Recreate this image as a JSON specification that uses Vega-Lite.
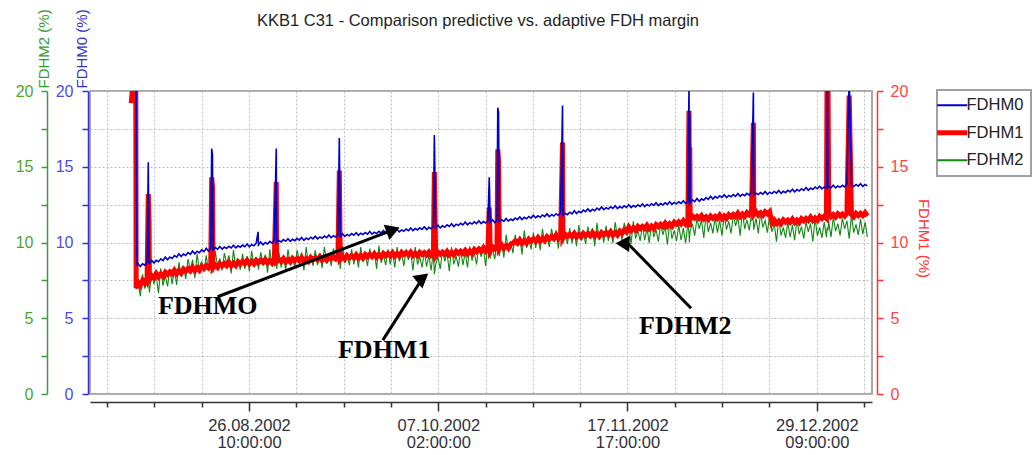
{
"$schema": "https://vega.github.io/schema/vega-lite/v6.json",
"width": 782, "height": 303,
"autosize": {"type": "none"},
"padding": {"left": 90, "top": 91, "right": 161, "bottom": 61},
"background": "white",
"title": {"text": "KKB1 C31 - Comparison predictive vs. adaptive FDH margin", "anchor": "middle", "frame": "group", "fontSize": 16.5, "font": "Liberation Sans", "fontWeight": "normal", "color": "#1e1e1e", "offset": 0, "dx": -3, "dy": 21},
"config": {"view": {"stroke": "#a8a8a8", "strokeWidth": 2}, "font": "Liberation Sans"},
"data": {"format": {"parse": {"t": "utc:'%Y-%m-%d %H'"}}, "values": [
{"t":"2002-07-31 12","b":19.2},{"t":"2002-08-01 00","b":21},{"t":"2002-08-01 12","b":21},{"t":"2002-08-01 14","a":21,"b":7.0,"c":6.9},{"t":"2002-08-01 18","a":8.45,"b":7.1,"c":7.8},
{"t":"2002-08-02 00","a":8.6,"b":7.37,"c":7.45},{"t":"2002-08-02 12","a":8.42,"b":7.15,"c":6.45},
{"t":"2002-08-03 00","a":8.6,"b":7.49,"c":7.9},{"t":"2002-08-03 12","a":8.51,"b":7.33,"c":6.95},
{"t":"2002-08-04 00","a":8.71,"b":7.7,"c":7.5},{"t":"2002-08-04 06","a":15.3,"b":13.2,"c":7.4},{"t":"2002-08-04 10","a":8.62,"b":11.3,"c":7.1},{"t":"2002-08-04 12","a":8.6,"b":7.56,"c":6.7},
{"t":"2002-08-05 00","a":8.82,"b":7.81,"c":7.95},{"t":"2002-08-05 12","a":8.64,"b":7.67,"c":7.25},
{"t":"2002-08-06 00","a":8.82,"b":7.95,"c":7.85},{"t":"2002-08-06 12","a":8.73,"b":7.73,"c":6.65},
{"t":"2002-08-07 00","a":8.92,"b":7.92,"c":8.3},{"t":"2002-08-07 12","a":8.81,"b":7.76,"c":7.15},
{"t":"2002-08-08 00","a":9.04,"b":8.04,"c":7.8},{"t":"2002-08-08 12","a":8.86,"b":7.9,"c":7.1},
{"t":"2002-08-09 00","a":9.04,"b":8.07,"c":8.25},{"t":"2002-08-09 12","a":8.95,"b":7.93,"c":7.25},
{"t":"2002-08-10 00","a":9.14,"b":8.17,"c":8.2},{"t":"2002-08-10 12","a":9.03,"b":7.95,"c":7.2},
{"t":"2002-08-11 00","a":9.25,"b":8.14,"c":8.7},{"t":"2002-08-11 12","a":9.07,"b":7.98,"c":7.75},
{"t":"2002-08-12 00","a":9.24,"b":8.25,"c":8.4},{"t":"2002-08-12 12","a":9.15,"b":8.11,"c":7.6},
{"t":"2002-08-13 00","a":9.33,"b":8.27,"c":8.9},{"t":"2002-08-13 12","a":9.22,"b":8.13,"c":8.2},
{"t":"2002-08-14 00","a":9.43,"b":8.36,"c":8.85},{"t":"2002-08-14 12","a":9.25,"b":8.14,"c":7.65},
{"t":"2002-08-15 00","a":9.42,"b":8.33,"c":9.25},{"t":"2002-08-15 12","a":9.33,"b":8.17,"c":8.1},
{"t":"2002-08-16 00","a":9.51,"b":8.43,"c":8.75},{"t":"2002-08-16 12","a":9.4,"b":8.29,"c":8.05},
{"t":"2002-08-17 00","a":9.61,"b":8.46,"c":9.15},{"t":"2002-08-17 12","a":9.43,"b":8.32,"c":8.15},
{"t":"2002-08-18 00","a":9.6,"b":8.55,"c":9.0},{"t":"2002-08-18 05","a":16.2,"b":14.3,"c":8.7},{"t":"2002-08-18 09","a":15.8,"b":13.7,"c":8.6},{"t":"2002-08-18 12","a":9.51,"b":8.33,"c":8.0},
{"t":"2002-08-19 00","a":9.67,"b":8.51,"c":9.4},{"t":"2002-08-19 12","a":9.56,"b":8.35,"c":8.45},
{"t":"2002-08-20 00","a":9.74,"b":8.6,"c":8.95},{"t":"2002-08-20 12","a":9.56,"b":8.46,"c":8.15},
{"t":"2002-08-21 00","a":9.7,"b":8.61,"c":9.3},{"t":"2002-08-21 12","a":9.61,"b":8.47,"c":8.6},
{"t":"2002-08-22 00","a":9.75,"b":8.69,"c":9.15},{"t":"2002-08-22 12","a":9.64,"b":8.47,"c":7.95},
{"t":"2002-08-23 00","a":9.82,"b":8.64,"c":9.5},{"t":"2002-08-23 12","a":9.64,"b":8.48,"c":8.35},
{"t":"2002-08-24 00","a":9.78,"b":8.73,"c":8.9},{"t":"2002-08-24 12","a":9.69,"b":8.59,"c":8.2},
{"t":"2002-08-25 00","a":9.83,"b":8.75,"c":9.25},{"t":"2002-08-25 12","a":9.72,"b":8.61,"c":8.25},
{"t":"2002-08-26 00","a":9.9,"b":8.82,"c":9.1},{"t":"2002-08-26 12","a":9.72,"b":8.6,"c":8.1},
{"t":"2002-08-27 00","a":9.87,"b":8.75,"c":9.45},{"t":"2002-08-27 12","a":9.78,"b":8.59,"c":8.5},
{"t":"2002-08-28 00","a":9.95,"b":8.83,"c":9.0},{"t":"2002-08-28 10","a":10.7,"b":8.75,"c":8.8},{"t":"2002-08-28 12","a":9.84,"b":8.69,"c":8.2},
{"t":"2002-08-29 00","a":10.03,"b":8.82,"c":9.35},{"t":"2002-08-29 12","a":9.85,"b":8.68,"c":8.65},
{"t":"2002-08-30 00","a":10.0,"b":8.88,"c":9.2},{"t":"2002-08-30 12","a":9.91,"b":8.66,"c":8.0},
{"t":"2002-08-31 00","a":10.07,"b":8.81,"c":9.55},{"t":"2002-08-31 12","a":9.96,"b":8.65,"c":8.4},
{"t":"2002-09-01 00","a":10.16,"b":8.89,"c":8.95},{"t":"2002-09-01 10","a":16.2,"b":14.0,"c":8.9},{"t":"2002-09-01 12","a":9.98,"b":8.75,"c":8.25},
{"t":"2002-09-02 00","a":10.13,"b":8.88,"c":9.35},{"t":"2002-09-02 12","a":10.04,"b":8.74,"c":8.35},
{"t":"2002-09-03 00","a":10.19,"b":8.94,"c":9.15},{"t":"2002-09-03 12","a":10.08,"b":8.72,"c":8.15},
{"t":"2002-09-04 00","a":10.25,"b":8.87,"c":9.55},{"t":"2002-09-04 12","a":10.07,"b":8.71,"c":8.6},
{"t":"2002-09-05 00","a":10.21,"b":8.95,"c":9.1},{"t":"2002-09-05 12","a":10.12,"b":8.81,"c":8.3},
{"t":"2002-09-06 00","a":10.27,"b":8.94,"c":9.5},{"t":"2002-09-06 12","a":10.16,"b":8.8,"c":8.8},
{"t":"2002-09-07 00","a":10.33,"b":9.0,"c":9.35},{"t":"2002-09-07 12","a":10.15,"b":8.78,"c":8.15},
{"t":"2002-09-08 00","a":10.29,"b":8.93,"c":9.7},{"t":"2002-09-08 12","a":10.2,"b":8.77,"c":8.55},
{"t":"2002-09-09 00","a":10.35,"b":9.01,"c":9.15},{"t":"2002-09-09 12","a":10.24,"b":8.87,"c":8.45},
{"t":"2002-09-10 00","a":10.42,"b":9.0,"c":9.5},{"t":"2002-09-10 12","a":10.24,"b":8.86,"c":8.5},
{"t":"2002-09-11 00","a":10.37,"b":9.06,"c":9.3},{"t":"2002-09-11 12","a":10.28,"b":8.84,"c":8.3},
{"t":"2002-09-12 00","a":10.43,"b":8.99,"c":9.7},{"t":"2002-09-12 12","a":10.32,"b":8.83,"c":8.75},
{"t":"2002-09-13 00","a":10.5,"b":9.07,"c":9.25},{"t":"2002-09-13 12","a":10.32,"b":8.93,"c":8.45},
{"t":"2002-09-14 00","a":10.45,"b":9.06,"c":9.6},{"t":"2002-09-14 12","a":10.36,"b":8.92,"c":8.9},
{"t":"2002-09-15 00","a":10.51,"b":9.12,"c":9.45},{"t":"2002-09-15 07","a":16.9,"b":14.75,"c":9.2},{"t":"2002-09-15 12","a":10.4,"b":8.9,"c":8.25},
{"t":"2002-09-16 00","a":10.58,"b":9.06,"c":9.8},{"t":"2002-09-16 12","a":10.4,"b":8.9,"c":8.65},
{"t":"2002-09-17 00","a":10.53,"b":9.14,"c":9.2},{"t":"2002-09-17 12","a":10.44,"b":9.0,"c":8.5},
{"t":"2002-09-18 00","a":10.59,"b":9.13,"c":9.55},{"t":"2002-09-18 12","a":10.48,"b":8.99,"c":8.55},
{"t":"2002-09-19 00","a":10.65,"b":9.19,"c":9.35},{"t":"2002-09-19 12","a":10.47,"b":8.97,"c":8.35},
{"t":"2002-09-20 00","a":10.61,"b":9.13,"c":9.7},{"t":"2002-09-20 12","a":10.52,"b":8.97,"c":8.75},
{"t":"2002-09-21 00","a":10.66,"b":9.21,"c":9.25},{"t":"2002-09-21 12","a":10.55,"b":9.07,"c":8.45},
{"t":"2002-09-22 00","a":10.73,"b":9.21,"c":9.6},{"t":"2002-09-22 12","a":10.55,"b":9.07,"c":8.9},
{"t":"2002-09-23 00","a":10.68,"b":9.26,"c":9.45},{"t":"2002-09-23 12","a":10.59,"b":9.04,"c":8.25},
{"t":"2002-09-24 00","a":10.74,"b":9.2,"c":9.8},{"t":"2002-09-24 12","a":10.63,"b":9.04,"c":8.65},
{"t":"2002-09-25 00","a":10.8,"b":9.28,"c":9.2},{"t":"2002-09-25 12","a":10.62,"b":9.14,"c":8.5},
{"t":"2002-09-26 00","a":10.76,"b":9.28,"c":9.55},{"t":"2002-09-26 12","a":10.67,"b":9.14,"c":8.55},
{"t":"2002-09-27 00","a":10.81,"b":9.33,"c":9.35},{"t":"2002-09-27 12","a":10.7,"b":9.11,"c":8.35},
{"t":"2002-09-28 00","a":10.88,"b":9.27,"c":9.7},{"t":"2002-09-28 12","a":10.7,"b":9.11,"c":8.75},
{"t":"2002-09-29 00","a":10.83,"b":9.35,"c":9.25},{"t":"2002-09-29 12","a":10.74,"b":9.21,"c":8.45},
{"t":"2002-09-30 00","a":10.89,"b":9.33,"c":9.55},{"t":"2002-09-30 12","a":10.78,"b":9.19,"c":8.85},
{"t":"2002-10-01 00","a":10.96,"b":9.37,"c":9.35},{"t":"2002-10-01 12","a":10.78,"b":9.15,"c":8.15},
{"t":"2002-10-02 00","a":10.92,"b":9.29,"c":9.7},{"t":"2002-10-02 12","a":10.83,"b":9.13,"c":8.55},
{"t":"2002-10-03 00","a":10.97,"b":9.35,"c":9.05},{"t":"2002-10-03 12","a":10.86,"b":9.21,"c":8.35},
{"t":"2002-10-04 00","a":11.04,"b":9.33,"c":9.4},{"t":"2002-10-04 12","a":10.86,"b":9.19,"c":8.4},
{"t":"2002-10-05 00","a":11.0,"b":9.37,"c":9.15},{"t":"2002-10-05 12","a":10.91,"b":9.15,"c":8.15},
{"t":"2002-10-06 00","a":11.06,"b":9.29,"c":9.5},{"t":"2002-10-06 05","a":17.1,"b":14.65,"c":7.9},{"t":"2002-10-06 12","a":10.95,"b":9.13,"c":8.55},
{"t":"2002-10-07 00","a":11.14,"b":9.36,"c":9.05},{"t":"2002-10-07 12","a":10.96,"b":9.22,"c":8.25},
{"t":"2002-10-08 00","a":11.1,"b":9.36,"c":9.45},{"t":"2002-10-08 12","a":11.01,"b":9.22,"c":8.75},
{"t":"2002-10-09 00","a":11.17,"b":9.41,"c":9.3},{"t":"2002-10-09 12","a":11.06,"b":9.19,"c":8.1},
{"t":"2002-10-10 00","a":11.24,"b":9.35,"c":9.7},{"t":"2002-10-10 12","a":11.06,"b":9.19,"c":8.55},
{"t":"2002-10-11 00","a":11.21,"b":9.42,"c":9.1},{"t":"2002-10-11 12","a":11.12,"b":9.28,"c":8.4},
{"t":"2002-10-12 00","a":11.27,"b":9.42,"c":9.5},{"t":"2002-10-12 12","a":11.16,"b":9.28,"c":8.5},
{"t":"2002-10-13 00","a":11.35,"b":9.47,"c":9.35},{"t":"2002-10-13 12","a":11.17,"b":9.25,"c":8.35},
{"t":"2002-10-14 00","a":11.31,"b":9.44,"c":9.75},{"t":"2002-10-14 12","a":11.22,"b":9.28,"c":8.8},
{"t":"2002-10-15 00","a":11.36,"b":9.54,"c":9.35},{"t":"2002-10-15 12","a":11.25,"b":9.4,"c":8.55},
{"t":"2002-10-16 00","a":11.43,"b":9.57,"c":9.75},{"t":"2002-10-16 12","a":11.25,"b":9.43,"c":9.05},
{"t":"2002-10-17 00","a":11.38,"b":9.65,"c":9.65},{"t":"2002-10-17 12","a":11.29,"b":9.43,"c":8.45},
{"t":"2002-10-18 00","a":11.44,"b":9.62,"c":10.1},{"t":"2002-10-18 07","a":14.3,"b":12.3,"c":9.4},{"t":"2002-10-18 12","a":11.33,"b":9.46,"c":8.95},
{"t":"2002-10-19 00","a":11.5,"b":9.72,"c":9.6},{"t":"2002-10-19 12","a":11.32,"b":9.58,"c":8.9},
{"t":"2002-10-20 00","a":11.46,"b":9.75,"c":10.1},{"t":"2002-10-20 04","a":18.9,"b":16.15,"c":9.7},{"t":"2002-10-20 08","a":18.6,"b":15.4,"c":9.5},{"t":"2002-10-20 12","a":11.37,"b":9.61,"c":9.1},
{"t":"2002-10-21 00","a":11.51,"b":9.84,"c":10.0},{"t":"2002-10-21 12","a":11.4,"b":9.62,"c":9.0},
{"t":"2002-10-22 00","a":11.59,"b":9.78,"c":10.5},{"t":"2002-10-22 12","a":11.41,"b":9.62,"c":9.55},
{"t":"2002-10-23 00","a":11.55,"b":9.88,"c":10.1},{"t":"2002-10-23 12","a":11.46,"b":9.96,"c":9.3},
{"t":"2002-10-24 00","a":11.62,"b":10.1,"c":10.5},{"t":"2002-10-24 12","a":11.51,"b":9.96,"c":9.8},
{"t":"2002-10-25 00","a":11.69,"b":10.17,"c":10.4},{"t":"2002-10-25 12","a":11.51,"b":9.95,"c":9.2},
{"t":"2002-10-26 00","a":11.66,"b":10.12,"c":10.8},{"t":"2002-10-26 12","a":11.57,"b":9.96,"c":9.65},
{"t":"2002-10-27 00","a":11.72,"b":10.22,"c":10.25},{"t":"2002-10-27 12","a":11.61,"b":10.08,"c":9.55},
{"t":"2002-10-28 00","a":11.8,"b":10.23,"c":10.65},{"t":"2002-10-28 12","a":11.62,"b":10.09,"c":9.65},
{"t":"2002-10-29 00","a":11.76,"b":10.31,"c":10.5},{"t":"2002-10-29 12","a":11.67,"b":10.09,"c":9.5},
{"t":"2002-10-30 00","a":11.82,"b":10.28,"c":10.9},{"t":"2002-10-30 12","a":11.71,"b":10.12,"c":9.95},
{"t":"2002-10-31 00","a":11.89,"b":10.38,"c":10.5},{"t":"2002-10-31 12","a":11.71,"b":10.24,"c":9.7},
{"t":"2002-11-01 00","a":11.84,"b":10.4,"c":10.9},{"t":"2002-11-01 12","a":11.75,"b":10.26,"c":10.2},
{"t":"2002-11-02 00","a":11.9,"b":10.49,"c":10.8},{"t":"2002-11-02 12","a":11.79,"b":10.27,"c":9.6},
{"t":"2002-11-03 00","a":11.97,"b":10.45,"c":11.15},{"t":"2002-11-03 10","a":19.05,"b":16.6,"c":10.5},{"t":"2002-11-03 12","a":11.79,"b":10.29,"c":10.0},
{"t":"2002-11-04 00","a":11.93,"b":10.55,"c":10.6},{"t":"2002-11-04 12","a":11.84,"b":10.41,"c":9.9},
{"t":"2002-11-05 00","a":12.0,"b":10.54,"c":10.95},{"t":"2002-11-05 12","a":11.89,"b":10.4,"c":9.95},
{"t":"2002-11-06 00","a":12.09,"b":10.6,"c":10.75},{"t":"2002-11-06 12","a":11.91,"b":10.38,"c":9.75},
{"t":"2002-11-07 00","a":12.06,"b":10.53,"c":11.15},{"t":"2002-11-07 12","a":11.97,"b":10.37,"c":10.2},
{"t":"2002-11-08 00","a":12.14,"b":10.6,"c":10.7},{"t":"2002-11-08 12","a":12.03,"b":10.46,"c":9.9},
{"t":"2002-11-09 00","a":12.22,"b":10.59,"c":11.05},{"t":"2002-11-09 12","a":12.04,"b":10.45,"c":10.35},
{"t":"2002-11-10 00","a":12.19,"b":10.65,"c":10.95},{"t":"2002-11-10 12","a":12.1,"b":10.43,"c":9.75},
{"t":"2002-11-11 00","a":12.27,"b":10.58,"c":11.3},{"t":"2002-11-11 12","a":12.16,"b":10.42,"c":10.15},
{"t":"2002-11-12 00","a":12.35,"b":10.65,"c":10.7},{"t":"2002-11-12 12","a":12.17,"b":10.51,"c":10.0},
{"t":"2002-11-13 00","a":12.3,"b":10.65,"c":11.1},{"t":"2002-11-13 12","a":12.21,"b":10.51,"c":10.1},
{"t":"2002-11-14 00","a":12.36,"b":10.71,"c":10.95},{"t":"2002-11-14 12","a":12.25,"b":10.49,"c":9.95},
{"t":"2002-11-15 00","a":12.42,"b":10.65,"c":11.35},{"t":"2002-11-15 12","a":12.24,"b":10.49,"c":10.4},
{"t":"2002-11-16 00","a":12.37,"b":10.74,"c":10.95},{"t":"2002-11-16 12","a":12.28,"b":10.6,"c":10.15},
{"t":"2002-11-17 00","a":12.42,"b":10.83,"c":11.3},{"t":"2002-11-17 12","a":12.31,"b":10.69,"c":10.6},
{"t":"2002-11-18 00","a":12.49,"b":11.02,"c":11.1},{"t":"2002-11-18 12","a":12.31,"b":10.8,"c":9.9},
{"t":"2002-11-19 00","a":12.44,"b":10.97,"c":11.4},{"t":"2002-11-19 12","a":12.35,"b":10.81,"c":10.25},
{"t":"2002-11-20 00","a":12.49,"b":11.06,"c":10.8},{"t":"2002-11-20 12","a":12.38,"b":10.92,"c":10.1},
{"t":"2002-11-21 00","a":12.55,"b":11.06,"c":11.15},{"t":"2002-11-21 12","a":12.37,"b":10.92,"c":10.15},
{"t":"2002-11-22 00","a":12.51,"b":11.13,"c":10.95},{"t":"2002-11-22 12","a":12.42,"b":10.91,"c":9.95},
{"t":"2002-11-23 00","a":12.56,"b":11.08,"c":11.3},{"t":"2002-11-23 12","a":12.45,"b":10.92,"c":10.35},
{"t":"2002-11-24 00","a":12.62,"b":11.18,"c":10.85},{"t":"2002-11-24 12","a":12.44,"b":11.04,"c":10.05},
{"t":"2002-11-25 00","a":12.57,"b":11.2,"c":11.2},{"t":"2002-11-25 12","a":12.48,"b":11.06,"c":10.5},
{"t":"2002-11-26 00","a":12.62,"b":11.28,"c":11.05},{"t":"2002-11-26 12","a":12.51,"b":11.06,"c":9.85},
{"t":"2002-11-27 00","a":12.69,"b":11.24,"c":11.4},{"t":"2002-11-27 12","a":12.51,"b":11.08,"c":10.25},
{"t":"2002-11-28 00","a":12.64,"b":11.34,"c":10.8},{"t":"2002-11-28 12","a":12.55,"b":11.2,"c":10.1},
{"t":"2002-11-29 00","a":12.69,"b":11.36,"c":11.15},{"t":"2002-11-29 12","a":12.58,"b":11.22,"c":10.15},
{"t":"2002-11-30 00","a":12.75,"b":11.43,"c":10.95},{"t":"2002-11-30 12","a":12.57,"b":11.21,"c":9.95},
{"t":"2002-12-01 00","a":12.73,"b":11.39,"c":11.3},{"t":"2002-12-01 06","a":20.5,"b":18.7,"c":10.6},{"t":"2002-12-01 08","a":12.4,"b":11.0,"c":10.0},{"t":"2002-12-01 10","a":18.5,"b":16.3,"c":10.5},{"t":"2002-12-01 12","a":12.64,"b":11.53,"c":10.75},
{"t":"2002-12-02 00","a":12.81,"b":11.75,"c":11.25},{"t":"2002-12-02 12","a":12.7,"b":11.61,"c":10.45},
{"t":"2002-12-03 00","a":12.9,"b":11.73,"c":11.6},{"t":"2002-12-03 12","a":12.72,"b":11.59,"c":10.9},
{"t":"2002-12-04 00","a":12.88,"b":11.77,"c":11.5},{"t":"2002-12-04 12","a":12.79,"b":11.55,"c":10.3},
{"t":"2002-12-05 00","a":12.96,"b":11.69,"c":11.85},{"t":"2002-12-05 12","a":12.85,"b":11.53,"c":10.7},
{"t":"2002-12-06 00","a":13.05,"b":11.75,"c":11.3},{"t":"2002-12-06 12","a":12.87,"b":11.61,"c":10.6},
{"t":"2002-12-07 00","a":13.03,"b":11.73,"c":11.65},{"t":"2002-12-07 12","a":12.94,"b":11.59,"c":10.65},
{"t":"2002-12-08 00","a":13.09,"b":11.8,"c":11.45},{"t":"2002-12-08 12","a":12.98,"b":11.58,"c":10.45},
{"t":"2002-12-09 00","a":13.15,"b":11.75,"c":11.8},{"t":"2002-12-09 12","a":12.97,"b":11.59,"c":10.85},
{"t":"2002-12-10 00","a":13.11,"b":11.84,"c":11.4},{"t":"2002-12-10 12","a":13.02,"b":11.7,"c":10.6},
{"t":"2002-12-11 00","a":13.16,"b":11.85,"c":11.8},{"t":"2002-12-11 12","a":13.05,"b":11.71,"c":11.1},
{"t":"2002-12-12 00","a":13.23,"b":11.93,"c":11.65},{"t":"2002-12-12 12","a":13.05,"b":11.71,"c":10.45},
{"t":"2002-12-13 00","a":13.18,"b":11.88,"c":12.05},{"t":"2002-12-13 12","a":13.09,"b":11.72,"c":10.9},
{"t":"2002-12-14 00","a":13.24,"b":11.97,"c":11.5},{"t":"2002-12-14 12","a":13.13,"b":11.83,"c":10.8},
{"t":"2002-12-15 00","a":13.3,"b":11.98,"c":11.85},{"t":"2002-12-15 10","a":19.9,"b":17.9,"c":11.4},{"t":"2002-12-15 12","a":13.12,"b":11.84,"c":10.85},
{"t":"2002-12-16 00","a":13.25,"b":12.03,"c":11.6},{"t":"2002-12-16 12","a":13.16,"b":11.81,"c":10.6},
{"t":"2002-12-17 00","a":13.3,"b":11.96,"c":11.95},{"t":"2002-12-17 12","a":13.19,"b":11.8,"c":11.0},
{"t":"2002-12-18 00","a":13.36,"b":12.03,"c":11.45},{"t":"2002-12-18 12","a":13.18,"b":11.89,"c":10.65},
{"t":"2002-12-19 00","a":13.32,"b":12.03,"c":11.8},{"t":"2002-12-19 12","a":13.23,"b":11.29,"c":10.7},
{"t":"2002-12-20 00","a":13.37,"b":11.48,"c":11.25},{"t":"2002-12-20 12","a":13.26,"b":11.26,"c":10.05},
{"t":"2002-12-21 00","a":13.43,"b":11.41,"c":11.6},{"t":"2002-12-21 12","a":13.25,"b":11.25,"c":10.45},
{"t":"2002-12-22 00","a":13.38,"b":11.49,"c":11.0},{"t":"2002-12-22 12","a":13.29,"b":11.35,"c":10.3},
{"t":"2002-12-23 00","a":13.45,"b":11.48,"c":11.35},{"t":"2002-12-23 12","a":13.34,"b":11.34,"c":10.35},
{"t":"2002-12-24 00","a":13.52,"b":11.54,"c":11.15},{"t":"2002-12-24 12","a":13.34,"b":11.32,"c":10.15},
{"t":"2002-12-25 00","a":13.49,"b":11.48,"c":11.5},{"t":"2002-12-25 12","a":13.4,"b":11.32,"c":10.55},
{"t":"2002-12-26 00","a":13.55,"b":11.57,"c":11.05},{"t":"2002-12-26 12","a":13.44,"b":11.43,"c":10.25},
{"t":"2002-12-27 00","a":13.63,"b":11.59,"c":11.4},{"t":"2002-12-27 12","a":13.45,"b":11.45,"c":10.7},
{"t":"2002-12-28 00","a":13.59,"b":11.67,"c":11.25},{"t":"2002-12-28 12","a":13.5,"b":11.45,"c":10.05},
{"t":"2002-12-29 00","a":13.66,"b":11.62,"c":11.6},{"t":"2002-12-29 12","a":13.55,"b":11.46,"c":10.45},
{"t":"2002-12-30 00","a":13.72,"b":11.72,"c":11.0},{"t":"2002-12-30 12","a":13.54,"b":11.58,"c":10.3},
{"t":"2002-12-31 00","a":13.67,"b":11.73,"c":11.35},{"t":"2002-12-31 12","a":13.58,"b":11.59,"c":10.35},{"t":"2002-12-31 15","a":13.6,"b":21,"c":10.9},{"t":"2002-12-31 17","a":21,"b":21,"c":11.0},{"t":"2002-12-31 20","a":13.62,"b":21,"c":10.8},
{"t":"2003-01-01 00","a":13.72,"b":11.92,"c":11.35},{"t":"2003-01-01 12","a":13.61,"b":11.7,"c":10.35},
{"t":"2003-01-02 00","a":13.78,"b":11.84,"c":11.7},{"t":"2003-01-02 12","a":13.6,"b":11.68,"c":10.75},
{"t":"2003-01-03 00","a":13.73,"b":11.9,"c":11.25},{"t":"2003-01-03 12","a":13.64,"b":11.76,"c":10.45},
{"t":"2003-01-04 00","a":13.78,"b":11.88,"c":11.6},{"t":"2003-01-04 12","a":13.67,"b":11.74,"c":10.9},
{"t":"2003-01-05 00","a":13.84,"b":11.92,"c":11.45},{"t":"2003-01-05 12","a":21,"b":19.7,"c":10.25},
{"t":"2003-01-06 00","a":13.78,"b":11.85,"c":11.8},{"t":"2003-01-06 12","a":13.69,"b":11.69,"c":10.65},
{"t":"2003-01-07 00","a":13.83,"b":11.92,"c":11.2},{"t":"2003-01-07 12","a":13.72,"b":11.78,"c":10.5},
{"t":"2003-01-08 00","a":13.88,"b":11.92,"c":11.55},{"t":"2003-01-08 12","a":13.7,"b":11.78,"c":10.55},
{"t":"2003-01-09 00","a":13.83,"b":11.97,"c":11.35},{"t":"2003-01-09 12","a":13.74,"b":11.75,"c":10.35}
]},
"encoding": {
 "x": {"field": "t", "type": "temporal",
  "scale": {"type": "utc", "domain": [{"year":2002,"month":7,"date":22,"hours":10,"minutes":15,"utc":true},{"year":2003,"month":1,"date":10,"hours":12,"minutes":30,"utc":true}]},
  "axis": {"title": null, "offset": 8,
   "values": [{"year":2002,"month":7,"date":26,"hours":4,"utc":true},{"year":2002,"month":8,"date":5,"hours":14,"utc":true},{"year":2002,"month":8,"date":16,"hours":0,"utc":true},{"year":2002,"month":8,"date":26,"hours":10,"utc":true},{"year":2002,"month":9,"date":5,"hours":20,"utc":true},{"year":2002,"month":9,"date":16,"hours":6,"utc":true},{"year":2002,"month":9,"date":26,"hours":16,"utc":true},{"year":2002,"month":10,"date":7,"hours":2,"utc":true},{"year":2002,"month":10,"date":17,"hours":12,"utc":true},{"year":2002,"month":10,"date":27,"hours":22,"utc":true},{"year":2002,"month":11,"date":7,"hours":7,"utc":true},{"year":2002,"month":11,"date":17,"hours":17,"utc":true},{"year":2002,"month":11,"date":28,"hours":3,"utc":true},{"year":2002,"month":12,"date":8,"hours":13,"utc":true},{"year":2002,"month":12,"date":18,"hours":23,"utc":true},{"year":2002,"month":12,"date":29,"hours":9,"utc":true},{"year":2003,"month":1,"date":8,"hours":19,"utc":true}],
   "labelExpr": "indexof(['10','02','17','09'], utcFormat(datum.value, '%H')) >= 0 ? [utcFormat(datum.value, '%d.%m.%Y'), utcFormat(datum.value, '%H:%M:%S')] : ''",
   "labelOverlap": false, "labelFlush": false, "labelFont": "Liberation Sans", "labelFontSize": 16.5, "labelColor": "#30303a", "labelPadding": 6, "labelLineHeight": 17.5,
   "domainColor": "#333333", "domainWidth": 1.5, "tickColor": "#333333", "tickWidth": 1.5,
   "tickSize": {"condition": {"test": "indexof(['10','02','17','09'], utcFormat(datum.value, '%H')) >= 0", "value": 9}, "value": 5},
   "grid": true, "gridColor": "#bdbdbd", "gridDash": [2, 2], "gridWidth": 1}}
},
"layer": [
 {"mark": {"type": "line", "strokeWidth": 1.1, "clip": true},
  "encoding": {
   "y": {"field": "c", "type": "quantitative", "scale": {"domain": [0, 20], "nice": false, "zero": false},
    "axis": {"orient": "left", "offset": 43, "values": [0, 2.5, 5, 7.5, 10, 12.5, 15, 17.5, 20], "labelExpr": "datum.value % 5 === 0 ? datum.label : ''", "labelOverlap": false, "grid": false,
     "domainColor": "#3c9c3c", "domainWidth": 1.5, "tickColor": "#3c9c3c", "tickWidth": 1.5, "tickSize": 6,
     "labelColor": "#4ca62c", "labelFont": "Liberation Sans", "labelFontSize": 16, "labelPadding": 8,
     "title": "FDHM2 (%)", "titleColor": "#2f9e2f", "titleFont": "Liberation Sans", "titleFontSize": 15, "titleFontWeight": "normal", "titleAngle": 270, "titleAlign": "left", "titleBaseline": "middle", "titleX": -4, "titleY": -3}},
   "color": {"datum": "FDHM2", "type": "nominal",
    "scale": {"domain": ["FDHM0", "FDHM1", "FDHM2"], "range": ["#0000cc", "#ff0000", "#118811"]},
    "legend": {"title": null, "orient": "none", "legendX": 847, "legendY": -1, "symbolType": "stroke", "symbolSize": 900, "symbolStrokeWidth": 2, "labelFontSize": 16.5, "labelFont": "Liberation Sans", "labelColor": "#222222", "labelOffset": 6, "padding": 7, "rowPadding": 8.5, "strokeColor": "#a0a0a0", "fillColor": "#ffffff",
     "encode": {"legend": {"update": {"strokeWidth": {"value": 2}}}, "symbols": {"update": {"strokeWidth": {"signal": "datum.value === 'FDHM1' ? 5 : 2"}}}}}}
  }},
 {"mark": {"type": "line", "strokeWidth": 5, "clip": true},
  "encoding": {
   "y": {"field": "b", "type": "quantitative", "scale": {"domain": [0, 20], "nice": false, "zero": false},
    "axis": {"orient": "right", "offset": 5, "values": [0, 2.5, 5, 7.5, 10, 12.5, 15, 17.5, 20], "labelExpr": "datum.value % 5 === 0 ? datum.label : ''", "labelOverlap": false, "grid": false,
     "domainColor": "#ff3333", "domainWidth": 1.5, "tickColor": "#ff3333", "tickWidth": 1.5, "tickSize": 6,
     "labelColor": "#ff4444", "labelFont": "Liberation Sans", "labelFontSize": 16, "labelPadding": 7,
     "title": "FDHM1 (%)", "titleColor": "#ff3333", "titleFont": "Liberation Sans", "titleFontSize": 15, "titleFontWeight": "normal", "titleAngle": 90, "titleAlign": "center", "titleBaseline": "middle", "titleX": 46, "titleY": 147}},
   "color": {"datum": "FDHM1", "type": "nominal"}
  }},
 {"mark": {"type": "line", "strokeWidth": 1.6, "clip": true},
  "encoding": {
   "y": {"field": "a", "type": "quantitative", "scale": {"domain": [0, 20], "nice": false, "zero": false},
    "axis": {"orient": "left", "offset": 2, "values": [0, 2.5, 5, 7.5, 10, 12.5, 15, 17.5, 20], "labelExpr": "datum.value % 5 === 0 ? datum.label : ''", "labelOverlap": false,
     "grid": true, "gridColor": "#bdbdbd", "gridDash": [2, 2], "gridWidth": 1,
     "domainColor": "#3030dd", "domainWidth": 1.5, "tickColor": "#3030dd", "tickWidth": 1.5, "tickSize": 6,
     "labelColor": "#4d4de6", "labelFont": "Liberation Sans", "labelFontSize": 16, "labelPadding": 9,
     "title": "FDHM0 (%)", "titleColor": "#3333cc", "titleFont": "Liberation Sans", "titleFontSize": 15, "titleFontWeight": "normal", "titleAngle": 270, "titleAlign": "left", "titleBaseline": "middle", "titleX": -6.5, "titleY": -3}},
   "color": {"datum": "FDHM0", "type": "nominal"}
  }},
 {"data": {"format": {"parse": {"t": "utc:'%Y-%m-%d %H'", "t0": "utc:'%Y-%m-%d %H'"}}, "values": [
   {"name": "FDHMO", "t": "2002-09-27 03", "v": 10.83, "t0": "2002-08-19 12", "v0": 6.42},
   {"name": "FDHM1", "t": "2002-10-03 16", "v": 7.67, "t0": "2002-09-24 21", "v0": 3.56},
   {"name": "FDHM2", "t": "2002-11-17 10", "v": 10.05, "t0": "2002-12-01 17", "v0": 5.66}]},
  "layer": [
   {"mark": {"type": "rule", "strokeWidth": 3, "color": "black"},
    "encoding": {"x2": {"field": "t0"}, "y": {"field": "v", "type": "quantitative", "scale": {"domain": [0, 20], "nice": false, "zero": false}, "axis": null}, "y2": {"field": "v0"}}},
   {"mark": {"type": "point", "shape": "triangle-up", "filled": true, "color": "black", "opacity": 1, "size": 260},
    "encoding": {"y": {"field": "v", "type": "quantitative", "scale": {"domain": [0, 20], "nice": false, "zero": false}, "axis": null},
     "angle": {"field": "name", "type": "nominal", "scale": {"domain": ["FDHMO", "FDHM1", "FDHM2"], "range": [69.4, 32.7, 315.8]}, "legend": null}}}
  ]},
 {"data": {"format": {"parse": {"t": "utc:'%Y-%m-%d %H'"}}, "values": [
   {"t": "2002-08-06 09", "v": 5.28, "txt": "FDHMO"},
   {"t": "2002-09-15 00", "v": 2.36, "txt": "FDHM1"},
   {"t": "2002-11-20 06", "v": 3.94, "txt": "FDHM2"}]},
  "mark": {"type": "text", "align": "left", "baseline": "alphabetic", "font": "Liberation Serif", "fontWeight": "bold", "fontSize": 26, "color": "black"},
  "encoding": {"y": {"field": "v", "type": "quantitative", "scale": {"domain": [0, 20], "nice": false, "zero": false}, "axis": null}, "text": {"field": "txt"}}}
],
"resolve": {"scale": {"y": "independent"}}
}
